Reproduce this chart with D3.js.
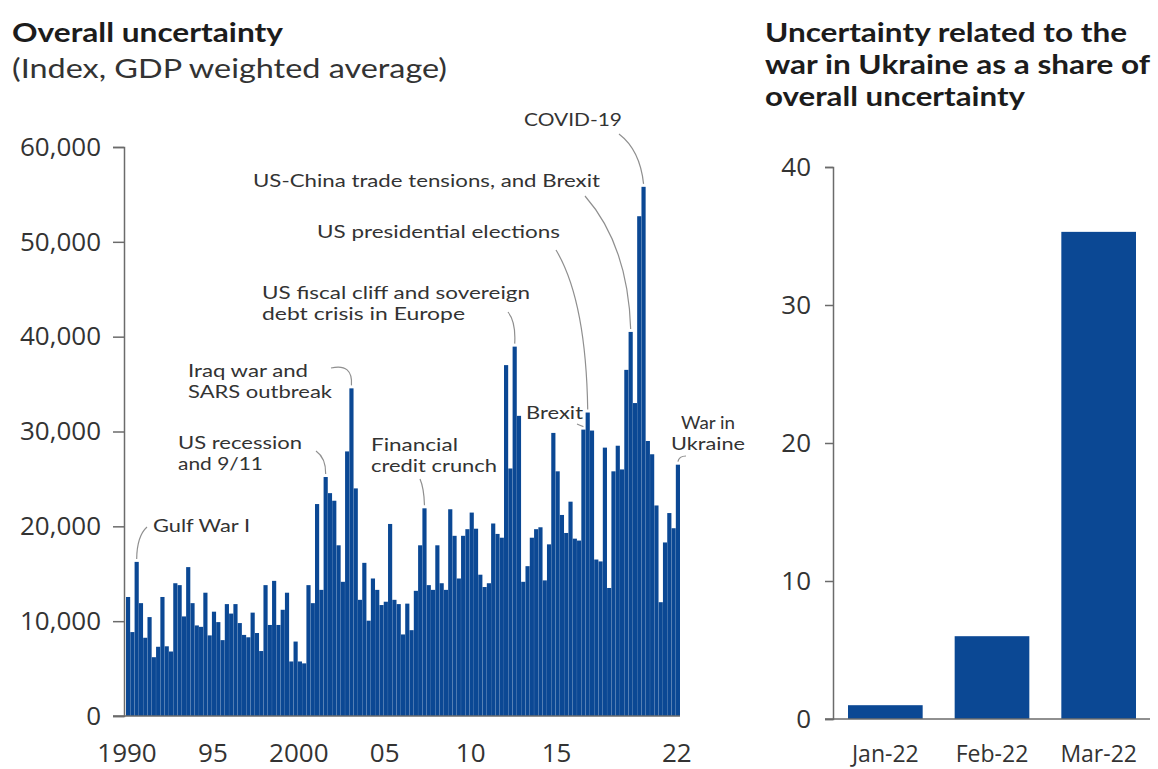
<!DOCTYPE html>
<html>
<head>
<meta charset="utf-8">
<script src="https://cdn.jsdelivr.net/npm/d3@7"></script>
<style>
  html, body { margin: 0; padding: 0; background: #ffffff; }
  svg { display: block; font-family: "Open Sans", "Lato", sans-serif; }
</style>
</head>
<body>
<svg id="chart" width="1158" height="769"></svg>
<script>
// ---------------- DATA ----------------
const firstYear = 1990;
const quarterCount = 129; // 1990Q1 .. 2022Q1
const quarters = d3.range(quarterCount).map(i => `${firstYear + Math.floor(i / 4)}Q${(i % 4) + 1}`);

const overallUncertainty = [
  12550, 8850, 16250, 11900, 8250, 10430, 6200, 7300,
  12550, 7350, 6800, 14000, 13800, 10500, 15700, 11900,
  9550, 9400, 13000, 8500, 11000, 9900, 8000, 11800,
  10800, 11800, 9800, 8550, 8300, 10900, 8750, 6850,
  13800, 9600, 14250, 9600, 11200, 13000, 5750, 7850,
  5750, 5550, 13800, 11900, 22350, 13300, 25200, 23500,
  22700, 18000, 14150, 27900, 34550, 24000, 12250, 16150,
  10050, 14500, 13300, 11700, 12050, 20250, 12250, 11800,
  8600, 11850, 9050, 13200, 18000, 21900, 13800, 13300,
  18000, 14000, 13300, 21800, 19000, 14500, 19000, 19700,
  21450, 19750, 14900, 13600, 14000, 20300, 19200, 18800,
  37000, 26100, 38950, 31650, 14150, 15800, 18800, 19700,
  19900, 14300, 18100, 29850, 25800, 21200, 19300, 22600,
  18700, 18500, 30200, 32000, 30100, 16500, 16300, 28300,
  13500, 25800, 28500, 26000, 36500, 40500, 33000, 52700,
  55800, 29000, 27600, 22200, 12000, 18300, 21400, 19800,
  26500
];

const xTickQuarters = ["1990Q1", "1995Q1", "2000Q1", "2005Q1", "2010Q1", "2015Q1", "2022Q1"];
const xTickLabels   = ["1990", "95", "2000", "05", "10", "15", "22"];
const yTicksLeft    = [0, 10000, 20000, 30000, 40000, 50000, 60000];

const months        = ["Jan-22", "Feb-22", "Mar-22"];
const ukraineShare  = [1.0, 6.0, 35.3];
const yTicksRight   = [0, 10, 20, 30, 40];

const leftTitle     = "Overall uncertainty";
const leftSubtitle  = "(Index, GDP weighted average)";
const rightTitle    = ["Uncertainty related to the", "war in Ukraine as a share of", "overall uncertainty"];

// annotation texts and the quarter each one points to
const annotationTexts = [
  ["Gulf War I"],
  ["US recession", "and 9/11"],
  ["Iraq war and", "SARS outbreak"],
  ["Financial", "credit crunch"],
  ["US fiscal cliff and sovereign", "debt crisis in Europe"],
  ["US presidential elections"],
  ["Brexit"],
  ["US-China trade tensions, and Brexit"],
  ["COVID-19"],
  ["War in", "Ukraine"]
];
const annotationTargets = ["1990Q3", "2001Q3", "2003Q1", "2007Q2", "2012Q3", "2016Q4", "2016Q3", "2019Q2", "2020Q1", "2022Q1"];

// ---------------- LAYOUT ----------------
const barColor = "#0b4894";
const axisColor = "#6b6b6b";
const textColor = "#333333";
const titleColor = "#1c1c1c";
const leaderColor = "#8f8f8f";
const labelFont = "Lato";

const svg = d3.select("#chart");

// label layout: text position, line widths, leader start & control point
const annLayout = [
  { x: 153, y: 532, anchor: "start", w: [97], from: [147, 527], ctrl: [137, 536] },
  { x: 178, y: 449, anchor: "start", w: [124, 85], from: [316, 451], ctrl: [326, 458] },
  { x: 188, y: 377, anchor: "start", w: [120, 144], from: [331, 368], ctrl: [353, 363] },
  { x: 371, y: 451, anchor: "start", w: [87, 126], from: [420, 479], ctrl: [424, 488] },
  { x: 262, y: 299, anchor: "start", w: [268, 203], from: [508, 312], ctrl: [516, 322] },
  { x: 317, y: 238, anchor: "start", w: [243], from: [556, 250], ctrl: [586, 300] },
  { x: 526, y: 419, anchor: "start", w: [57], from: [577, 424], ctrl: [582, 426] },
  { x: 253, y: 187, anchor: "start", w: [347], from: [585, 196], ctrl: [628, 245] },
  { x: 524, y: 126, anchor: "start", w: [98], from: [619, 134], ctrl: [640, 150] },
  { x: 708, y: 429, anchor: "middle", w: [54, 74], from: [686, 456], ctrl: [679, 456] }
];

function fitText(sel, width) {
  sel.attr("textLength", width).attr("lengthAdjust", "spacingAndGlyphs");
}

// ---------------- LEFT CHART ----------------
const xL = d3.scaleBand().domain(quarters).range([126, 680]).paddingInner(0.03);
const yL = d3.scaleLinear().domain([0, 60000]).range([716, 147]);

// titles
fitText(svg.append("text").attr("x", 12).attr("y", 42)
  .attr("font-family", labelFont)
  .attr("font-size", 27).attr("font-weight", 700).attr("fill", titleColor)
  .text(leftTitle), 271);
fitText(svg.append("text").attr("x", 12).attr("y", 78)
  .attr("font-family", labelFont)
  .attr("font-size", 27.5).attr("fill", textColor)
  .text(leftSubtitle), 435);

// bars
svg.append("g").selectAll("rect")
  .data(quarters)
  .join("rect")
  .attr("x", d => xL(d))
  .attr("width", xL.bandwidth())
  .attr("y", (d, i) => yL(overallUncertainty[i]))
  .attr("height", (d, i) => yL(0) - yL(overallUncertainty[i]))
  .attr("fill", barColor);

// left y axis
const yAxisL = d3.axisLeft(yL).tickValues(yTicksLeft).tickFormat(d3.format(",")).tickSize(11).tickPadding(12);
const gyl = svg.append("g").attr("transform", "translate(124,0)").call(yAxisL);
gyl.select(".domain").attr("stroke", axisColor).attr("stroke-width", 1.5);
gyl.selectAll(".tick line").attr("stroke", axisColor).attr("stroke-width", 1.5);
gyl.selectAll(".tick text").attr("font-size", 26).attr("fill", textColor)
  .attr("font-family", "Open Sans");

// left x baseline
svg.append("line").attr("x1", 113).attr("x2", 680).attr("y1", yL(0)).attr("y2", yL(0))
  .attr("stroke", axisColor).attr("stroke-width", 1.5);

// left x labels
svg.append("g").selectAll("text")
  .data(xTickQuarters)
  .join("text")
  .attr("x", d => xL(d) + 1)
  .attr("y", 762)
  .attr("text-anchor", "middle")
  .attr("font-size", 26).attr("fill", textColor)
  .text((d, i) => xTickLabels[i]);

// annotations
const annG = svg.append("g");
annotationTexts.forEach((lines, k) => {
  const L = annLayout[k];
  const t = annG.append("text").attr("x", L.x).attr("y", L.y)
    .attr("text-anchor", L.anchor)
    .attr("font-family", labelFont)
    .attr("font-size", 17.5).attr("fill", textColor);
  lines.forEach((ln, j) => {
    const ts = t.append("tspan").attr("x", L.x).attr("dy", j === 0 ? 0 : 21.3).text(ln);
    fitText(ts, L.w[j]);
  });
  const q = annotationTargets[k];
  const qi = quarters.indexOf(q);
  const tx = xL(q) + xL.bandwidth() / 2;
  const ty = yL(overallUncertainty[qi]) - 3;
  const p = d3.path();
  p.moveTo(L.from[0], L.from[1]);
  p.quadraticCurveTo(L.ctrl[0], L.ctrl[1], tx, ty);
  annG.append("path").attr("d", p.toString())
    .attr("fill", "none").attr("stroke", leaderColor).attr("stroke-width", 1.2);
});

// ---------------- RIGHT CHART ----------------
const xR = d3.scaleBand().domain(months).range([832, 1152]).paddingInner(0.3).paddingOuter(0.15);
const yR = d3.scaleLinear().domain([0, 40]).range([719, 167]);

const rightWidths = [362, 385, 260];
const rtt = svg.append("text").attr("x", 765).attr("y", 42)
  .attr("font-family", labelFont)
  .attr("font-size", 26.5).attr("font-weight", 700).attr("fill", titleColor);
rightTitle.forEach((ln, j) => {
  fitText(rtt.append("tspan").attr("x", 765).attr("dy", j === 0 ? 0 : 32).text(ln), rightWidths[j]);
});

svg.append("g").selectAll("rect")
  .data(months)
  .join("rect")
  .attr("x", d => xR(d))
  .attr("width", xR.bandwidth())
  .attr("y", (d, i) => yR(ukraineShare[i]))
  .attr("height", (d, i) => yR(0) - yR(ukraineShare[i]))
  .attr("fill", barColor);

const yAxisR = d3.axisLeft(yR).tickValues(yTicksRight).tickSize(8).tickPadding(14);
const gyr = svg.append("g").attr("transform", "translate(833,0)").call(yAxisR);
gyr.select(".domain").attr("stroke", axisColor).attr("stroke-width", 1.5);
gyr.selectAll(".tick line").attr("stroke", axisColor).attr("stroke-width", 1.5);
gyr.selectAll(".tick text").attr("font-size", 26).attr("fill", textColor)
  .attr("font-family", "Open Sans");

svg.append("line").attr("x1", 825).attr("x2", 1150).attr("y1", yR(0)).attr("y2", yR(0))
  .attr("stroke", axisColor).attr("stroke-width", 1.5);

svg.append("g").selectAll("text")
  .data(months)
  .join("text")
  .attr("x", d => xR(d) + xR.bandwidth() / 2)
  .attr("y", 762)
  .attr("text-anchor", "middle")
  .attr("font-size", 23).attr("fill", textColor)
  .text(d => d);
</script>
</body>
</html>
